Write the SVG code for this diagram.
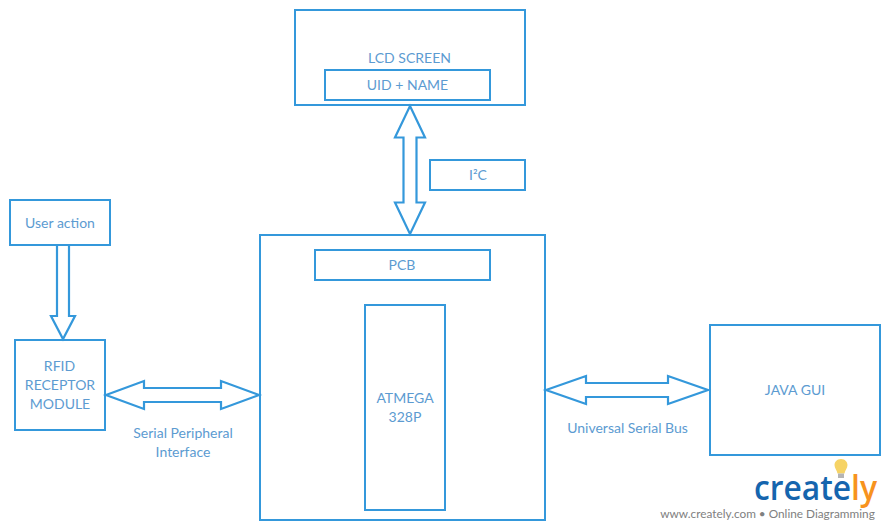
<svg xmlns="http://www.w3.org/2000/svg" width="889" height="530" viewBox="0 0 889 530">
<style>
.b{fill:#fff;stroke:#3498db;stroke-width:2}
.a{fill:#fff;stroke:#3498db;stroke-width:2.200;stroke-linejoin:miter}
text{font-family:Lato,"Liberation Sans",sans-serif;font-size:14px;fill:#5c9bd1;text-anchor:middle}
.logo{font-family:"Open Sans","Liberation Sans",sans-serif;font-size:34px;font-weight:600;text-anchor:start}
</style>
<rect width="889" height="530" fill="#fff"/>
<g id="lcd"><rect class="b" x="295" y="10" width="230" height="95"/><text x="409.500" y="63">LCD SCREEN</text></g>
<g id="uid"><rect class="b" x="325" y="70" width="165" height="30"/><text x="407.500" y="90">UID + NAME</text></g>
<g id="i2c"><rect class="b" x="430" y="160" width="95" height="30"/><text x="478" y="180">I²C</text></g>
<g id="user"><rect class="b" x="10" y="200" width="100" height="45"/><text x="60" y="228">User action</text></g>
<g id="rfid"><rect class="b" x="15" y="340" width="90" height="90"/><text x="59.500" y="371">RFID</text><text x="60" y="390">RECEPTOR</text><text x="60" y="409">MODULE</text></g>
<g id="main"><rect class="b" x="260" y="235" width="285" height="285"/></g>
<g id="pcb"><rect class="b" x="315" y="250" width="175" height="30"/><text x="402" y="270">PCB</text></g>
<g id="atmega"><rect class="b" x="365" y="305" width="80" height="205"/><text x="405" y="403">ATMEGA</text><text x="405" y="422">328P</text></g>
<g id="java"><rect class="b" x="710" y="325" width="170" height="130"/><text x="795" y="395">JAVA GUI</text></g>
<g id="connectors">
<path class="a" d="M410 106L425 137.500H416.500V202.500H425L410 234L395 202.500H403.500V137.500H395Z"/>
<path class="a" d="M57 245H69V316H75L63 339L51 316H57Z"/>
<path class="a" d="M106 395L144 381V388H221V381L259 395L221 409V402H144V409Z"/>
<path class="a" d="M546 390L586 376V383H668V376L708 390L668 404V397H586V404Z"/>
</g>
<g id="labels"><text x="183" y="438">Serial Peripheral</text><text x="183" y="457">Interface</text><text x="627.500" y="433">Universal Serial Bus</text></g>
<g id="logo">
<path d="M841 459C845 459 847.500 462 847.500 465C847.500 468.500 845 470 844.500 473.500H837.500C837 470 834.500 468.500 834.500 465C834.500 462 837 459 841 459Z" fill="#f6d365"/>
<rect x="838" y="473.500" width="6" height="4.500" fill="#b5b5b5"/>
<text class="logo" x="754" y="500" style="fill:#1565ae" textLength="97" lengthAdjust="spacingAndGlyphs">create</text>
<text class="logo" x="851" y="500" style="fill:#f7931e" textLength="26" lengthAdjust="spacingAndGlyphs">ly</text>
<text x="767.500" y="518" style="font-size:11.800px;fill:#808080">www.creately.com • Online Diagramming</text>
</g>
</svg>
